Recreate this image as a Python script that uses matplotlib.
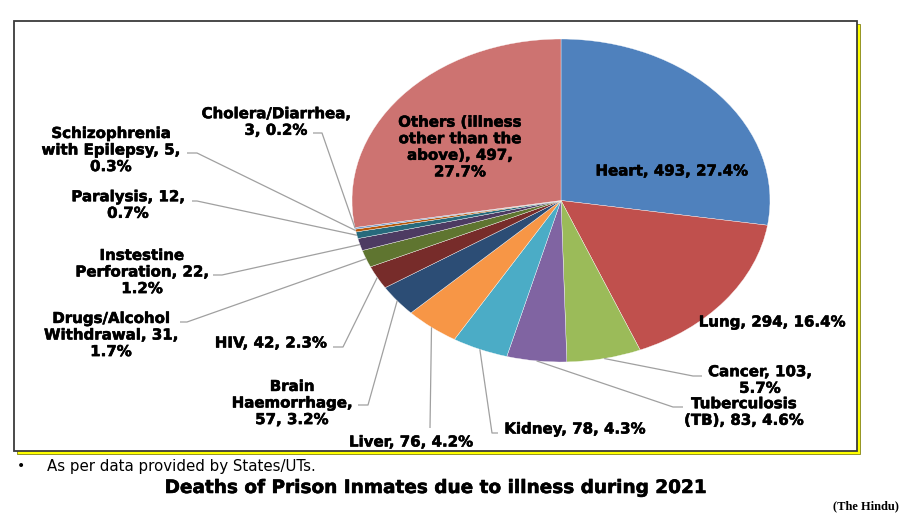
import numpy as np
import matplotlib
matplotlib.use("Agg")
import matplotlib.pyplot as plt
from matplotlib.patches import Rectangle
import matplotlib.patheffects as pe

# ---------------- data ----------------
categories = ["Heart", "Lung", "Cancer", "Tuberculosis (TB)", "Kidney", "Liver",
              "Brain Haemorrhage", "HIV", "Drugs/Alcohol Withdrawal",
              "Instestine Perforation", "Paralysis", "Schizophrenia with Epilepsy",
              "Cholera/Diarrhea", "Others (illness other than the above)"]
deaths = [493, 294, 103, 83, 78, 76, 57, 42, 31, 22, 12, 5, 3, 497]
percents = ["27.4%", "16.4%", "5.7%", "4.6%", "4.3%", "4.2%", "3.2%", "2.3%",
            "1.7%", "1.2%", "0.7%", "0.3%", "0.2%", "27.7%"]
label_texts = [
    "Heart, 493, 27.4%",
    "Lung, 294, 16.4%",
    "Cancer, 103,\n5.7%",
    "Tuberculosis\n(TB), 83, 4.6%",
    "Kidney, 78, 4.3%",
    "Liver, 76, 4.2%",
    "Brain\nHaemorrhage,\n57, 3.2%",
    "HIV, 42, 2.3%",
    "Drugs/Alcohol\nWithdrawal, 31,\n1.7%",
    "Instestine\nPerforation, 22,\n1.2%",
    "Paralysis, 12,\n0.7%",
    "Schizophrenia\nwith Epilepsy, 5,\n0.3%",
    "Cholera/Diarrhea,\n3, 0.2%",
    "Others (illness\nother than the\nabove), 497,\n27.7%",
]
colors = ["#4F81BD", "#C0504D", "#9BBB59", "#8064A2", "#4BACC6", "#F79646",
          "#2C4D75", "#772C2A", "#5F7530", "#4D3B62", "#276A7C", "#B65708",
          "#729ACA", "#CD7371"]
title = "Deaths of Prison Inmates due to illness during 2021"
footnote = "As per data provided by States/UTs."
source = "(The Hindu)"

# ---------------- layout (pixels) ----------------
W, H = 900, 514
label_pos = [(672, 171), (772, 322), (760, 380), (744, 412), (575, 429),
             (411, 442), (292, 403), (271, 343), (111, 335), (142, 272),
             (128, 205), (111, 150), (276, 122), (460, 147)]
# leader elbows: (elbow x, elbow y, end x) or None
leaders = [None, None, (693, 376, 702), (673, 407, 683), (492, 433, 498),
           (430, 428, 430), (368, 405, 358), (343, 347, 333), (187, 322, 180),
           (222, 275, 213), (197, 201, 192), (197, 153, 187), (322, 133, 313),
           None]
pie_box = (352, 39, 770, 362)  # left, top, right, bottom

fig = plt.figure(figsize=(W / 100, H / 100), dpi=100)
fig.patch.set_facecolor("white")

# background axes: frame with yellow shadow
bg = fig.add_axes([0, 0, 1, 1], zorder=0)
bg.set_xlim(0, W)
bg.set_ylim(H, 0)
bg.axis("off")
bg.add_patch(Rectangle((16.5, 23.5), 843, 430, facecolor="#FFFF00",
                       edgecolor="#6b6b00", lw=0.5, zorder=0))
bg.add_patch(Rectangle((14, 21), 843, 430, facecolor="white",
                       edgecolor="#3a3a3a", lw=1.3, zorder=1))

# pie axes
l, t, r, b = pie_box
pax = fig.add_axes([l / W, (H - b) / H, (r - l) / W, (b - t) / H], zorder=1)
wedges, _ = pax.pie(deaths, colors=colors, startangle=90, counterclock=False,
                    radius=1, wedgeprops=dict(edgecolor="white", linewidth=0.25))
pax.set_aspect("auto")
pax.set_xlim(-1, 1)
pax.set_ylim(-1, 1)
pax.axis("off")

# overlay axes for labels and leaders
over = fig.add_axes([0, 0, 1, 1], zorder=2)
over.set_xlim(0, W)
over.set_ylim(H, 0)
over.axis("off")
over.patch.set_alpha(0)

heavy = [pe.withStroke(linewidth=0.4, foreground="black")]
font = dict(family="DejaVu Sans", weight="bold", size=10.8, color="black")
to_over = over.transData.inverted()
for i, w in enumerate(wedges):
    mid = np.deg2rad((w.theta1 + w.theta2) / 2)
    x0, y0 = to_over.transform(pax.transData.transform((np.cos(mid), np.sin(mid))))
    lx, ly = label_pos[i]
    over.text(lx, ly, label_texts[i], ha="center", va="center",
              multialignment="center", linespacing=1.13, zorder=5,
              path_effects=heavy, **font)
    if leaders[i] is not None:
        ex, ey, hx = leaders[i]
        over.plot([x0, ex, hx], [y0, ey, ey], color="#A0A0A0", lw=0.9,
                  solid_capstyle="butt", zorder=4)

# footnote, title, source
over.text(17, 466, "\u2022", ha="left", va="center", fontsize=10,
          family="DejaVu Sans", color="black")
over.text(47, 466, footnote, ha="left", va="center", fontsize=10.8,
          family="DejaVu Sans", color="black")
over.text(436, 488, title, ha="center", va="center", fontsize=13.3,
          family="DejaVu Sans", weight="bold", color="black",
          path_effects=heavy)
over.text(899, 506, source, ha="right", va="center", fontsize=9,
          family="Liberation Serif", weight="bold", color="black")

fig.savefig("out.png", dpi=100, facecolor="white")
